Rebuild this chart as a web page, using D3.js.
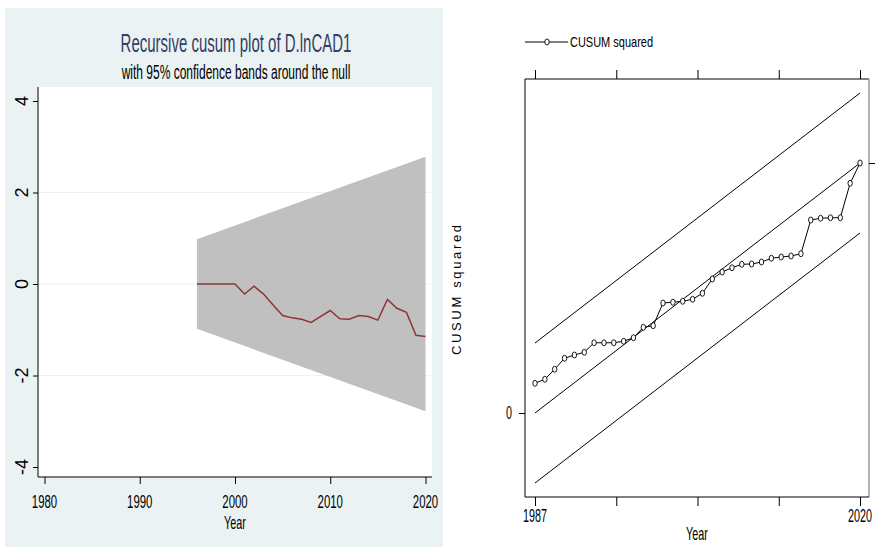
<!DOCTYPE html>
<html>
<head>
<meta charset="utf-8">
<script src="https://cdn.jsdelivr.net/npm/d3@7"></script>
<style>
  body { margin: 0; background: #fff; }
  svg { display: block; font-family: "Liberation Sans", Arial, sans-serif; }
</style>
</head>
<body>
<div id="chart"></div>
<script>
// Left panel: recursive cusum with 95% band
const cusumYears = [1996, 1997, 1998, 1999, 2000, 2001, 2002, 2003, 2004, 2005, 2006, 2007, 2008,
  2009, 2010, 2011, 2012, 2013, 2014, 2015, 2016, 2017, 2018, 2019, 2020];
const cusumValues = [0, 0, 0, 0, 0, -0.22, -0.05, -0.22, -0.46, -0.69, -0.74, -0.77, -0.84,
  -0.71, -0.58, -0.76, -0.77, -0.69, -0.71, -0.79, -0.34, -0.53, -0.62, -1.12, -1.15];
const bandYears = [1996, 2020];
const bandUpper = [0.98, 2.78];
const bandLower = [-0.98, -2.78];
const leftXTicks = [1980, 1990, 2000, 2010, 2020];
const leftYTicks = [4, 2, 0, -2, -4];
const leftGrid = [2, 0, -2];

// Right panel: CUSUM squared
const sqYears = [1987, 1988, 1989, 1990, 1991, 1992, 1993, 1994, 1995, 1996, 1997, 1998, 1999,
  2000, 2001, 2002, 2003, 2004, 2005, 2006, 2007, 2008, 2009, 2010, 2011, 2012, 2013, 2014,
  2015, 2016, 2017, 2018, 2019, 2020];
const sqValues = [0.119, 0.135, 0.175, 0.219, 0.232, 0.243, 0.281, 0.281, 0.281, 0.287, 0.301,
  0.343, 0.349, 0.440, 0.443, 0.447, 0.455, 0.479, 0.536, 0.564, 0.581, 0.595, 0.596, 0.604,
  0.619, 0.624, 0.628, 0.637, 0.772, 0.779, 0.781, 0.781, 0.919, 1.0];
const sqLineYears = [1987, 2020];
const sqExpected = [0, 1];
const sqUpper = [0.28, 1.28];
const sqLower = [-0.28, 0.72];
const rightXTicks = [1987, 1995.25, 2003.5, 2011.75, 2020];
const rightXLabels = ["1987", "", "", "", "2020"];

const W = 880, H = 547;
const SX = 0.6; // horizontal squeeze of the original picture's text

const svg = d3.select("#chart").append("svg").attr("width", W).attr("height", H);

function label(g, txt, x, y, size, sx, anchor, extra) {
  const t = g.append("text")
    .attr("transform", "translate(" + x + "," + y + ") scale(" + sx + ",1)" + (extra || ""))
    .attr("text-anchor", anchor || "middle")
    .attr("font-size", size)
    .attr("fill", "#000")
    .text(txt);
  return t;
}

// ---------- left panel ----------
const left = svg.append("g");
left.append("rect").attr("x", 5).attr("y", 8).attr("width", 438).attr("height", 539).attr("fill", "#eaf2f3");
left.append("rect").attr("x", 38).attr("y", 87).attr("width", 394).attr("height", 390).attr("fill", "#fff");

const lx = d3.scaleLinear().domain([1980, 2020]).range([44.5, 425.5]);
const ly = d3.scaleLinear().domain([-4, 4]).range([467, 101]);

leftGrid.forEach(v => {
  left.append("line").attr("x1", 38).attr("x2", 432).attr("y1", ly(v)).attr("y2", ly(v))
    .attr("stroke", "#eaf2f3").attr("stroke-width", 1.2);
});

const band = d3.area()
  .x((d, i) => lx(bandYears[i]))
  .y0((d, i) => ly(bandLower[i]))
  .y1((d, i) => ly(bandUpper[i]));
left.append("path").datum(bandYears).attr("d", band).attr("fill", "#c0c0c0");

const cusumLine = d3.line().x((d, i) => lx(cusumYears[i])).y(d => ly(d));
left.append("path").datum(cusumValues).attr("d", cusumLine)
  .attr("fill", "none").attr("stroke", "#90353b").attr("stroke-width", 1.5);

// axes
left.append("g").attr("transform", "translate(38,0)")
  .call(d3.axisLeft(ly).tickValues(leftYTicks).tickSize(5).tickFormat(""))
  .call(g => g.select(".domain").attr("d", "M0,87V477"));
left.append("g").attr("transform", "translate(0,477)")
  .call(d3.axisBottom(lx).tickValues(leftXTicks).tickSize(7).tickFormat(""))
  .call(g => g.select(".domain").attr("d", "M38,0H432"));
left.selectAll(".domain, .tick line").attr("stroke", "#000");

leftYTicks.forEach(v => {
  label(left, String(v), 28, ly(v), 18, 1, "middle", " rotate(-90)");
});
leftXTicks.forEach(v => {
  label(left, v, lx(v), 508, 19, SX);
});
label(left, "Year", 235, 529, 18, SX);

left.append("text").attr("x", 0).attr("y", 0)
  .attr("transform", "translate(236,52) scale(" + SX + ",1)")
  .attr("text-anchor", "middle").attr("font-size", 25).attr("fill", "#333f63")
  .text("Recursive cusum plot of D.lnCAD1");
label(left, "with 95% confidence bands around the null", 236, 79, 20, SX);

// ---------- right panel ----------
const right = svg.append("g");
const rx = d3.scaleLinear().domain([1987, 2020]).range([535, 860]);
const ry = d3.scaleLinear().domain([0, 1]).range([413, 163]);

const straight = arr => d3.line().x((d, i) => rx(sqLineYears[i])).y(d => ry(d))(arr);
[sqUpper, sqExpected, sqLower].forEach(arr => {
  right.append("path").attr("d", straight(arr)).attr("fill", "none")
    .attr("stroke", "#000").attr("stroke-width", 1);
});

const sqLine = d3.line().x((d, i) => rx(sqYears[i])).y(d => ry(d));
right.append("path").datum(sqValues).attr("d", sqLine)
  .attr("fill", "none").attr("stroke", "#000").attr("stroke-width", 1);
right.selectAll("ellipse.pt").data(sqValues).join("ellipse").attr("class", "pt")
  .attr("cx", (d, i) => rx(sqYears[i])).attr("cy", d => ry(d))
  .attr("rx", 2.2).attr("ry", 3)
  .attr("fill", "#fff").attr("stroke", "#000").attr("stroke-width", 0.9);

// frame
right.append("line").attr("x1", 525).attr("x2", 869).attr("y1", 79).attr("y2", 79).attr("stroke", "#000");
right.append("line").attr("x1", 869).attr("x2", 869).attr("y1", 79).attr("y2", 497).attr("stroke", "#999").attr("stroke-width", 1.5);

right.append("g").attr("transform", "translate(0,497)")
  .call(d3.axisBottom(rx).tickValues(rightXTicks).tickSize(9).tickFormat(""))
  .call(g => g.select(".domain").attr("d", "M525,0H869"));
right.append("g").attr("transform", "translate(0,79)")
  .call(d3.axisTop(rx).tickValues(rightXTicks).tickSize(9).tickFormat(""))
  .call(g => g.select(".domain").remove());
right.append("g").attr("transform", "translate(525,0)")
  .call(d3.axisLeft(ry).tickValues([0]).tickSize(6).tickFormat(""))
  .call(g => g.select(".domain").attr("d", "M0,79V497"));
right.append("g").attr("transform", "translate(869,0)")
  .call(d3.axisRight(ry).tickValues([1]).tickSize(6).tickFormat(""))
  .call(g => g.select(".domain").remove());
right.selectAll(".domain, .tick line").attr("stroke", "#000");

rightXTicks.forEach((v, i) => {
  if (rightXLabels[i]) label(right, rightXLabels[i], rx(v), 522, 18, SX);
});
label(right, "Year", 697, 540, 18, SX);
label(right, "0", 509, ry(0) + 6, 18, SX);

right.append("text")
  .attr("transform", "translate(461,290) rotate(-90)")
  .attr("text-anchor", "middle").attr("font-size", 13)
  .attr("textLength", 130).attr("lengthAdjust", "spacing")
  .text("CUSUM squared");

// legend
right.append("line").attr("x1", 525).attr("x2", 568).attr("y1", 42).attr("y2", 42).attr("stroke", "#000");
right.append("ellipse").attr("cx", 547).attr("cy", 42).attr("rx", 2.2).attr("ry", 3)
  .attr("fill", "#fff").attr("stroke", "#000").attr("stroke-width", 0.9);
right.append("text").attr("x", 570).attr("y", 47).attr("font-size", 15)
  .attr("textLength", 83).attr("lengthAdjust", "spacingAndGlyphs")
  .text("CUSUM squared");
</script>
</body>
</html>
